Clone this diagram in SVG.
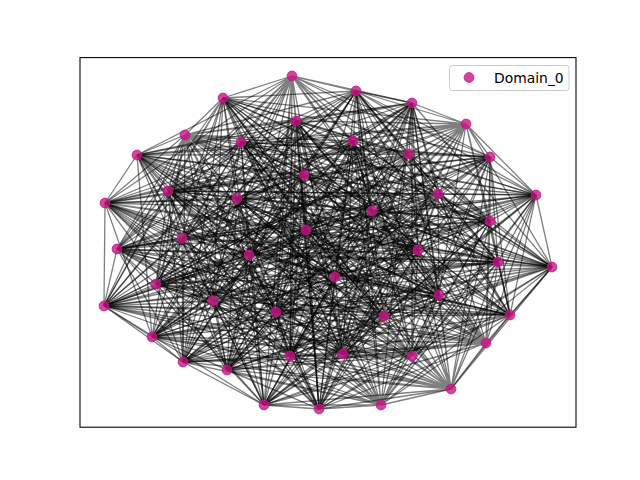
<svg xmlns="http://www.w3.org/2000/svg" width="640" height="480" viewBox="0 0 640 480">
<style>
.e{fill:none;stroke:#000;stroke-opacity:0.5;stroke-width:1.3}
.nd{fill:#c71585;fill-opacity:0.8;stroke:#c71585;stroke-opacity:0.8;stroke-width:1}
.lt{font-family:"DejaVu Sans",sans-serif;font-size:13.9px;fill:#000}
</style>
<rect x="0" y="0" width="640" height="480" fill="#fff"/>
<g id="connectors">
<path class="e" d="M292 76L356 91M292 76L223 98M292 76L241 142M292 76L490 157M292 76L168 191M292 76L536 195M292 76L490 221M292 76L117 249M292 76L498 262M292 76L156 284M292 76L104 306M292 76L510 315M292 76L343 354M292 76L183 362M292 76L264 405M292 76L412 103M292 76L296 121M292 76L353 141M292 76L137 155M292 76L237 198M292 76L105 203M292 76L306 230M292 76L418 250M292 76L552 267M292 76L439 295M292 76L276 312M292 76L152 337M292 76L290 356M292 76L227 370M292 76L319 409"/>
<path class="e" d="M466 124L356 91M466 124L223 98M466 124L241 142M466 124L490 157M466 124L168 191M466 124L536 195M466 124L490 221M466 124L117 249M466 124L498 262M466 124L156 284M466 124L104 306M466 124L510 315M466 124L343 354M466 124L183 362M466 124L264 405M466 124L412 103M466 124L296 121M466 124L353 141M466 124L137 155M466 124L237 198M466 124L105 203M466 124L306 230M466 124L418 250M466 124L552 267M466 124L439 295M466 124L276 312M466 124L152 337M466 124L290 356M466 124L227 370M466 124L319 409"/>
<path class="e" d="M185 135L356 91M185 135L223 98M185 135L241 142M185 135L490 157M185 135L168 191M185 135L536 195M185 135L490 221M185 135L117 249M185 135L498 262M185 135L156 284M185 135L104 306M185 135L510 315M185 135L343 354M185 135L183 362M185 135L264 405M185 135L412 103M185 135L296 121M185 135L353 141M185 135L137 155M185 135L237 198M185 135L105 203M185 135L306 230M185 135L418 250M185 135L552 267M185 135L439 295M185 135L276 312M185 135L152 337M185 135L290 356M185 135L227 370M185 135L319 409"/>
<path class="e" d="M409 154L356 91M409 154L223 98M409 154L241 142M409 154L490 157M409 154L168 191M409 154L536 195M409 154L490 221M409 154L117 249M409 154L498 262M409 154L156 284M409 154L104 306M409 154L510 315M409 154L343 354M409 154L183 362M409 154L264 405M409 154L412 103M409 154L296 121M409 154L353 141M409 154L137 155M409 154L237 198M409 154L105 203M409 154L306 230M409 154L418 250M409 154L552 267M409 154L439 295M409 154L276 312M409 154L152 337M409 154L290 356M409 154L227 370M409 154L319 409"/>
<path class="e" d="M304 175L356 91M304 175L223 98M304 175L241 142M304 175L490 157M304 175L168 191M304 175L536 195M304 175L490 221M304 175L117 249M304 175L498 262M304 175L156 284M304 175L104 306M304 175L510 315M304 175L343 354M304 175L183 362M304 175L264 405M304 175L412 103M304 175L296 121M304 175L353 141M304 175L137 155M304 175L237 198M304 175L105 203M304 175L306 230M304 175L418 250M304 175L552 267M304 175L439 295M304 175L276 312M304 175L152 337M304 175L290 356M304 175L227 370M304 175L319 409"/>
<path class="e" d="M438 194L356 91M438 194L223 98M438 194L241 142M438 194L490 157M438 194L168 191M438 194L536 195M438 194L490 221M438 194L117 249M438 194L498 262M438 194L156 284M438 194L104 306M438 194L510 315M438 194L343 354M438 194L183 362M438 194L264 405M438 194L412 103M438 194L296 121M438 194L353 141M438 194L137 155M438 194L237 198M438 194L105 203M438 194L306 230M438 194L418 250M438 194L552 267M438 194L439 295M438 194L276 312M438 194L152 337M438 194L290 356M438 194L227 370M438 194L319 409"/>
<path class="e" d="M372 211L356 91M372 211L223 98M372 211L241 142M372 211L490 157M372 211L168 191M372 211L536 195M372 211L490 221M372 211L117 249M372 211L498 262M372 211L156 284M372 211L104 306M372 211L510 315M372 211L343 354M372 211L183 362M372 211L264 405M372 211L412 103M372 211L296 121M372 211L353 141M372 211L137 155M372 211L237 198M372 211L105 203M372 211L306 230M372 211L418 250M372 211L552 267M372 211L439 295M372 211L276 312M372 211L152 337M372 211L290 356M372 211L227 370M372 211L319 409"/>
<path class="e" d="M182 238L356 91M182 238L223 98M182 238L241 142M182 238L490 157M182 238L168 191M182 238L536 195M182 238L490 221M182 238L117 249M182 238L498 262M182 238L156 284M182 238L104 306M182 238L510 315M182 238L343 354M182 238L183 362M182 238L264 405M182 238L412 103M182 238L296 121M182 238L353 141M182 238L137 155M182 238L237 198M182 238L105 203M182 238L306 230M182 238L418 250M182 238L552 267M182 238L439 295M182 238L276 312M182 238L152 337M182 238L290 356M182 238L227 370M182 238L319 409"/>
<path class="e" d="M249 255L356 91M249 255L223 98M249 255L241 142M249 255L490 157M249 255L168 191M249 255L536 195M249 255L490 221M249 255L117 249M249 255L498 262M249 255L156 284M249 255L104 306M249 255L510 315M249 255L343 354M249 255L183 362M249 255L264 405M249 255L412 103M249 255L296 121M249 255L353 141M249 255L137 155M249 255L237 198M249 255L105 203M249 255L306 230M249 255L418 250M249 255L552 267M249 255L439 295M249 255L276 312M249 255L152 337M249 255L290 356M249 255L227 370M249 255L319 409"/>
<path class="e" d="M335 277L356 91M335 277L223 98M335 277L241 142M335 277L490 157M335 277L168 191M335 277L536 195M335 277L490 221M335 277L117 249M335 277L498 262M335 277L156 284M335 277L104 306M335 277L510 315M335 277L343 354M335 277L183 362M335 277L264 405M335 277L412 103M335 277L296 121M335 277L353 141M335 277L137 155M335 277L237 198M335 277L105 203M335 277L306 230M335 277L418 250M335 277L552 267M335 277L439 295M335 277L276 312M335 277L152 337M335 277L290 356M335 277L227 370M335 277L319 409"/>
<path class="e" d="M213 301L356 91M213 301L223 98M213 301L241 142M213 301L490 157M213 301L168 191M213 301L536 195M213 301L490 221M213 301L117 249M213 301L498 262M213 301L156 284M213 301L104 306M213 301L510 315M213 301L343 354M213 301L183 362M213 301L264 405M213 301L412 103M213 301L296 121M213 301L353 141M213 301L137 155M213 301L237 198M213 301L105 203M213 301L306 230M213 301L418 250M213 301L552 267M213 301L439 295M213 301L276 312M213 301L152 337M213 301L290 356M213 301L227 370M213 301L319 409"/>
<path class="e" d="M384 316L356 91M384 316L223 98M384 316L241 142M384 316L490 157M384 316L168 191M384 316L536 195M384 316L490 221M384 316L117 249M384 316L498 262M384 316L156 284M384 316L104 306M384 316L510 315M384 316L343 354M384 316L183 362M384 316L264 405M384 316L412 103M384 316L296 121M384 316L353 141M384 316L137 155M384 316L237 198M384 316L105 203M384 316L306 230M384 316L418 250M384 316L552 267M384 316L439 295M384 316L276 312M384 316L152 337M384 316L290 356M384 316L227 370M384 316L319 409"/>
<path class="e" d="M486 343L356 91M486 343L223 98M486 343L241 142M486 343L490 157M486 343L168 191M486 343L536 195M486 343L490 221M486 343L117 249M486 343L498 262M486 343L156 284M486 343L104 306M486 343L510 315M486 343L343 354M486 343L183 362M486 343L264 405M486 343L412 103M486 343L296 121M486 343L353 141M486 343L137 155M486 343L237 198M486 343L105 203M486 343L306 230M486 343L418 250M486 343L552 267M486 343L439 295M486 343L276 312M486 343L152 337M486 343L290 356M486 343L227 370M486 343L319 409"/>
<path class="e" d="M412 356L356 91M412 356L223 98M412 356L241 142M412 356L490 157M412 356L168 191M412 356L536 195M412 356L490 221M412 356L117 249M412 356L498 262M412 356L156 284M412 356L104 306M412 356L510 315M412 356L343 354M412 356L183 362M412 356L264 405M412 356L412 103M412 356L296 121M412 356L353 141M412 356L137 155M412 356L237 198M412 356L105 203M412 356L306 230M412 356L418 250M412 356L552 267M412 356L439 295M412 356L276 312M412 356L152 337M412 356L290 356M412 356L227 370M412 356L319 409"/>
<path class="e" d="M451 389L356 91M451 389L223 98M451 389L241 142M451 389L490 157M451 389L168 191M451 389L536 195M451 389L490 221M451 389L117 249M451 389L498 262M451 389L156 284M451 389L104 306M451 389L510 315M451 389L343 354M451 389L183 362M451 389L264 405M451 389L412 103M451 389L296 121M451 389L353 141M451 389L137 155M451 389L237 198M451 389L105 203M451 389L306 230M451 389L418 250M451 389L552 267M451 389L439 295M451 389L276 312M451 389L152 337M451 389L290 356M451 389L227 370M451 389L319 409"/>
<path class="e" d="M381 405L356 91M381 405L223 98M381 405L241 142M381 405L490 157M381 405L168 191M381 405L536 195M381 405L490 221M381 405L117 249M381 405L498 262M381 405L156 284M381 405L104 306M381 405L510 315M381 405L343 354M381 405L183 362M381 405L264 405M381 405L412 103M381 405L296 121M381 405L353 141M381 405L137 155M381 405L237 198M381 405L105 203M381 405L306 230M381 405L418 250M381 405L552 267M381 405L439 295M381 405L276 312M381 405L152 337M381 405L290 356M381 405L227 370M381 405L319 409"/>
<path class="e" d="M356 91L223 98M356 91L241 142M356 91L490 157M356 91L168 191M356 91L536 195M356 91L490 221M356 91L117 249M356 91L498 262M356 91L156 284M356 91L104 306M356 91L510 315M356 91L343 354M356 91L183 362M356 91L264 405"/>
<path class="e" d="M223 98L241 142M223 98L490 157M223 98L168 191M223 98L536 195M223 98L490 221M223 98L117 249M223 98L498 262M223 98L156 284M223 98L104 306M223 98L510 315M223 98L343 354M223 98L183 362M223 98L264 405"/>
<path class="e" d="M241 142L490 157M241 142L168 191M241 142L536 195M241 142L490 221M241 142L117 249M241 142L498 262M241 142L156 284M241 142L104 306M241 142L510 315M241 142L343 354M241 142L183 362M241 142L264 405"/>
<path class="e" d="M490 157L168 191M490 157L536 195M490 157L490 221M490 157L117 249M490 157L498 262M490 157L156 284M490 157L104 306M490 157L510 315M490 157L343 354M490 157L183 362M490 157L264 405"/>
<path class="e" d="M168 191L536 195M168 191L490 221M168 191L117 249M168 191L498 262M168 191L156 284M168 191L104 306M168 191L510 315M168 191L343 354M168 191L183 362M168 191L264 405"/>
<path class="e" d="M536 195L490 221M536 195L117 249M536 195L498 262M536 195L156 284M536 195L104 306M536 195L510 315M536 195L343 354M536 195L183 362M536 195L264 405"/>
<path class="e" d="M490 221L117 249M490 221L498 262M490 221L156 284M490 221L104 306M490 221L510 315M490 221L343 354M490 221L183 362M490 221L264 405"/>
<path class="e" d="M117 249L498 262M117 249L156 284M117 249L104 306M117 249L510 315M117 249L343 354M117 249L183 362M117 249L264 405"/>
<path class="e" d="M498 262L156 284M498 262L104 306M498 262L510 315M498 262L343 354M498 262L183 362M498 262L264 405"/>
<path class="e" d="M156 284L104 306M156 284L510 315M156 284L343 354M156 284L183 362M156 284L264 405"/>
<path class="e" d="M104 306L510 315M104 306L343 354M104 306L183 362M104 306L264 405"/>
<path class="e" d="M510 315L343 354M510 315L183 362M510 315L264 405M343 354L183 362M343 354L264 405M183 362L264 405"/>
<path class="e" d="M412 103L296 121M412 103L353 141M412 103L137 155M412 103L237 198M412 103L105 203M412 103L306 230M412 103L418 250M412 103L552 267M412 103L439 295M412 103L276 312M412 103L152 337M412 103L290 356M412 103L227 370M412 103L319 409"/>
<path class="e" d="M296 121L353 141M296 121L137 155M296 121L237 198M296 121L105 203M296 121L306 230M296 121L418 250M296 121L552 267M296 121L439 295M296 121L276 312M296 121L152 337M296 121L290 356M296 121L227 370M296 121L319 409"/>
<path class="e" d="M353 141L137 155M353 141L237 198M353 141L105 203M353 141L306 230M353 141L418 250M353 141L552 267M353 141L439 295M353 141L276 312M353 141L152 337M353 141L290 356M353 141L227 370M353 141L319 409"/>
<path class="e" d="M137 155L237 198M137 155L105 203M137 155L306 230M137 155L418 250M137 155L552 267M137 155L439 295M137 155L276 312M137 155L152 337M137 155L290 356M137 155L227 370M137 155L319 409"/>
<path class="e" d="M237 198L105 203M237 198L306 230M237 198L418 250M237 198L552 267M237 198L439 295M237 198L276 312M237 198L152 337M237 198L290 356M237 198L227 370M237 198L319 409"/>
<path class="e" d="M105 203L306 230M105 203L418 250M105 203L552 267M105 203L439 295M105 203L276 312M105 203L152 337M105 203L290 356M105 203L227 370M105 203L319 409"/>
<path class="e" d="M306 230L418 250M306 230L552 267M306 230L439 295M306 230L276 312M306 230L152 337M306 230L290 356M306 230L227 370M306 230L319 409"/>
<path class="e" d="M418 250L552 267M418 250L439 295M418 250L276 312M418 250L152 337M418 250L290 356M418 250L227 370M418 250L319 409"/>
<path class="e" d="M552 267L439 295M552 267L276 312M552 267L152 337M552 267L290 356M552 267L227 370M552 267L319 409"/>
<path class="e" d="M439 295L276 312M439 295L152 337M439 295L290 356M439 295L227 370M439 295L319 409"/>
<path class="e" d="M276 312L152 337M276 312L290 356M276 312L227 370M276 312L319 409M152 337L290 356M152 337L227 370M152 337L319 409M290 356L227 370M290 356L319 409M227 370L319 409"/>
<path class="e" d="M105 203L104 306M104 306L152 337M152 337L183 362M264 405L319 409M381 405L451 389M451 389L486 343M510 315L552 267M552 267L536 195M412 103L356 91"/>
</g>
<g id="n0"><circle class="nd" cx="292" cy="76" r="4.9"/></g>
<g id="n1"><circle class="nd" cx="356" cy="91" r="4.9"/></g>
<g id="n2"><circle class="nd" cx="412" cy="103" r="4.9"/></g>
<g id="n3"><circle class="nd" cx="466" cy="124" r="4.9"/></g>
<g id="n4"><circle class="nd" cx="223" cy="98" r="4.9"/></g>
<g id="n5"><circle class="nd" cx="296" cy="121" r="4.9"/></g>
<g id="n6"><circle class="nd" cx="185" cy="135" r="4.9"/></g>
<g id="n7"><circle class="nd" cx="241" cy="142" r="4.9"/></g>
<g id="n8"><circle class="nd" cx="353" cy="141" r="4.9"/></g>
<g id="n9"><circle class="nd" cx="409" cy="154" r="4.9"/></g>
<g id="n10"><circle class="nd" cx="490" cy="157" r="4.9"/></g>
<g id="n11"><circle class="nd" cx="137" cy="155" r="4.9"/></g>
<g id="n12"><circle class="nd" cx="304" cy="175" r="4.9"/></g>
<g id="n13"><circle class="nd" cx="168" cy="191" r="4.9"/></g>
<g id="n14"><circle class="nd" cx="237" cy="198" r="4.9"/></g>
<g id="n15"><circle class="nd" cx="438" cy="194" r="4.9"/></g>
<g id="n16"><circle class="nd" cx="536" cy="195" r="4.9"/></g>
<g id="n17"><circle class="nd" cx="105" cy="203" r="4.9"/></g>
<g id="n18"><circle class="nd" cx="372" cy="211" r="4.9"/></g>
<g id="n19"><circle class="nd" cx="490" cy="221" r="4.9"/></g>
<g id="n20"><circle class="nd" cx="306" cy="230" r="4.9"/></g>
<g id="n21"><circle class="nd" cx="182" cy="238" r="4.9"/></g>
<g id="n22"><circle class="nd" cx="117" cy="249" r="4.9"/></g>
<g id="n23"><circle class="nd" cx="418" cy="250" r="4.9"/></g>
<g id="n24"><circle class="nd" cx="249" cy="255" r="4.9"/></g>
<g id="n25"><circle class="nd" cx="498" cy="262" r="4.9"/></g>
<g id="n26"><circle class="nd" cx="552" cy="267" r="4.9"/></g>
<g id="n27"><circle class="nd" cx="335" cy="277" r="4.9"/></g>
<g id="n28"><circle class="nd" cx="156" cy="284" r="4.9"/></g>
<g id="n29"><circle class="nd" cx="439" cy="295" r="4.9"/></g>
<g id="n30"><circle class="nd" cx="213" cy="301" r="4.9"/></g>
<g id="n31"><circle class="nd" cx="104" cy="306" r="4.9"/></g>
<g id="n32"><circle class="nd" cx="276" cy="312" r="4.9"/></g>
<g id="n33"><circle class="nd" cx="384" cy="316" r="4.9"/></g>
<g id="n34"><circle class="nd" cx="510" cy="315" r="4.9"/></g>
<g id="n35"><circle class="nd" cx="152" cy="337" r="4.9"/></g>
<g id="n36"><circle class="nd" cx="486" cy="343" r="4.9"/></g>
<g id="n37"><circle class="nd" cx="343" cy="354" r="4.9"/></g>
<g id="n38"><circle class="nd" cx="290" cy="356" r="4.9"/></g>
<g id="n39"><circle class="nd" cx="412" cy="356" r="4.9"/></g>
<g id="n40"><circle class="nd" cx="183" cy="362" r="4.9"/></g>
<g id="n41"><circle class="nd" cx="227" cy="370" r="4.9"/></g>
<g id="n42"><circle class="nd" cx="451" cy="389" r="4.9"/></g>
<g id="n43"><circle class="nd" cx="264" cy="405" r="4.9"/></g>
<g id="n44"><circle class="nd" cx="319" cy="409" r="4.9"/></g>
<g id="n45"><circle class="nd" cx="381" cy="405" r="4.9"/></g>
<rect x="80" y="57.6" width="496" height="369.6" fill="none" stroke="#000" stroke-width="1.07"/>
<g id="legend">
<rect x="449.5" y="65.5" width="119.5" height="25" rx="2.8" fill="#fff" fill-opacity="0.8" stroke="#ccc" stroke-width="1"/>
<circle class="nd" cx="469" cy="77.5" r="4.9"/>
<text class="lt" x="494" y="82.5">Domain_0</text>
</g>
</svg>
